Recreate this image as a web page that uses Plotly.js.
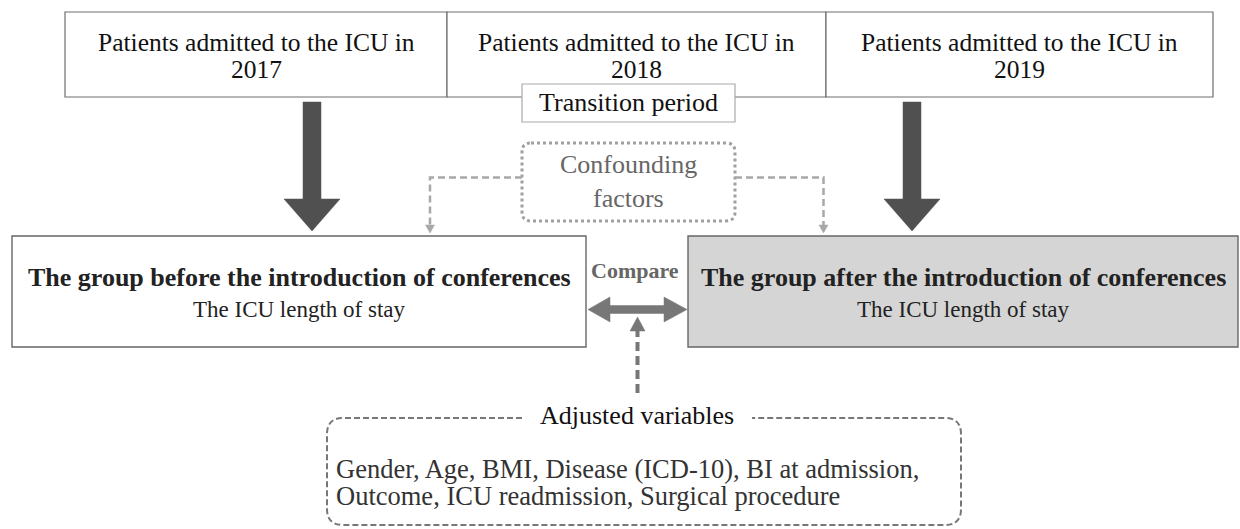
<!DOCTYPE html>
<html>
<head>
<meta charset="utf-8">
<script src="https://cdn.plot.ly/plotly-3.0.1.min.js"></script>
<style>html,body{margin:0;padding:0;background:#fff;}#chart{width:1240px;height:529px;}</style>
</head>
<body>
<div id="chart"></div>
<script>
// ---- content (text of the flow diagram) ----
const admissionYears = ['2017', '2018', '2019'];
const admissionLabel = 'Patients admitted to the ICU in';
const transitionLabel = 'Transition period';
const confoundingLines = ['Confounding', 'factors'];
const groupTitles = ['The group before the introduction of conferences', 'The group after the introduction of conferences'];
const groupSubtitles = ['The ICU length of stay', 'The ICU length of stay'];
const compareLabel = 'Compare';
const adjustedTitle = 'Adjusted variables';
const adjustedLines = ['Gender, Age, BMI, Disease (ICD-10), BI at admission,', 'Outcome, ICU readmission, Surgical procedure'];

// ---- layout geometry (pixel space of the 1240x529 canvas) ----
const W = 1240, H = 529;
const SERIF = 'Liberation Serif';
const topEdges = [65, 447, 826, 1213];
const topY = [12, 97];
const transBox = {x0: 522, x1: 735, y0: 84, y1: 122};
const confBox = {x0: 522, x1: 735, y0: 143, y1: 221, r: 9};
const groupBoxes = [{x0: 12, x1: 586, y0: 236, y1: 347, fill: '#ffffff'}, {x0: 688, x1: 1238, y0: 236, y1: 347, fill: '#d5d5d5'}];
const bigArrowX = [312, 912];
const adjBox = {x0: 327, x1: 961, y0: 418, y1: 525, r: 16, gap0: 522, gap1: 752};

const shapes = [];
const annotations = [];

function rect(x0, y0, x1, y1, color, fill, width) {
  shapes.push({type: 'rect', xref: 'x', yref: 'y', x0: x0, x1: x1, y0: y0, y1: y1,
    line: {color: color, width: width || 1.2}, fillcolor: fill || 'rgba(0,0,0,0)', layer: 'above'});
}
function path(d, color, width, dash, fill) {
  shapes.push({type: 'path', xref: 'x', yref: 'y', path: d,
    line: {color: color, width: width, dash: dash || 'solid'}, fillcolor: fill || 'rgba(0,0,0,0)', layer: 'above'});
}
function text(x, y, t, size, color, bold, xanchor) {
  annotations.push({xref: 'x', yref: 'y', x: x, y: y, text: bold ? '<b>' + t + '</b>' : t, showarrow: false,
    xanchor: xanchor || 'center', yanchor: 'middle', borderpad: 0,
    font: {family: SERIF, size: size, color: color}});
}
function roundedRect(b, r) {
  return 'M' + (b.x0 + r) + ',' + b.y0 + ' L' + (b.x1 - r) + ',' + b.y0 + ' Q' + b.x1 + ',' + b.y0 + ' ' + b.x1 + ',' + (b.y0 + r) +
    ' L' + b.x1 + ',' + (b.y1 - r) + ' Q' + b.x1 + ',' + b.y1 + ' ' + (b.x1 - r) + ',' + b.y1 +
    ' L' + (b.x0 + r) + ',' + b.y1 + ' Q' + b.x0 + ',' + b.y1 + ' ' + b.x0 + ',' + (b.y1 - r) +
    ' L' + b.x0 + ',' + (b.y0 + r) + ' Q' + b.x0 + ',' + b.y0 + ' ' + (b.x0 + r) + ',' + b.y0 + ' Z';
}
function downArrowFilled(cx, yTop, yHeadStart, yTip, shaftHalf, headHalf, color) {
  const d = 'M' + (cx - shaftHalf) + ',' + yTop + ' L' + (cx + shaftHalf) + ',' + yTop + ' L' + (cx + shaftHalf) + ',' + yHeadStart +
    ' L' + (cx + headHalf) + ',' + yHeadStart + ' L' + cx + ',' + yTip + ' L' + (cx - headHalf) + ',' + yHeadStart +
    ' L' + (cx - shaftHalf) + ',' + yHeadStart + ' Z';
  path(d, color, 0.5, 'solid', color);
}
function tri(ax, ay, bx, by, cx, cy, color) {
  path('M' + ax + ',' + ay + ' L' + bx + ',' + by + ' L' + cx + ',' + cy + ' Z', color, 0.5, 'solid', color);
}

// top row of admission boxes
for (let i = 0; i < admissionYears.length; i++) {
  rect(topEdges[i], topY[0], topEdges[i + 1], topY[1], '#6e6e6e', '#ffffff', 1.2);
  const cx = (topEdges[i] + topEdges[i + 1]) / 2;
  text(cx, 42, admissionLabel, 25.5, '#111111', false);
  text(cx, 69.5, admissionYears[i], 25.5, '#111111', false);
}
// transition period box
rect(transBox.x0, transBox.y0, transBox.x1, transBox.y1, '#aaaaaa', '#ffffff', 1.2);
text((transBox.x0 + transBox.x1) / 2, 102, transitionLabel, 26, '#111111', false);

// big dark arrows
bigArrowX.forEach(function (cx) { downArrowFilled(cx, 102, 199, 231, 9, 28, '#505050'); });

// confounding factors box (dotted, rounded)
path(roundedRect(confBox, confBox.r), '#a0a0a0', 3, 'dot');
text((confBox.x0 + confBox.x1) / 2, 164, confoundingLines[0], 26, '#666666', false);
text((confBox.x0 + confBox.x1) / 2, 198, confoundingLines[1], 26, '#666666', false);
// dashed connectors
path('M' + confBox.x0 + ',177.5 L430,177.5 L430,226', '#a8a8a8', 2.5, '7px,4px');
tri(425.5, 225, 434.5, 225, 430, 233, '#a8a8a8');
path('M' + confBox.x1 + ',177.5 L823.5,177.5 L823.5,226', '#a8a8a8', 2.5, '7px,4px');
tri(819, 225, 828, 225, 823.5, 233, '#a8a8a8');

// group boxes
groupBoxes.forEach(function (b, i) {
  rect(b.x0, b.y0, b.x1, b.y1, '#666666', b.fill, 1.4);
  const cx = (b.x0 + b.x1) / 2;
  text(cx, 277, groupTitles[i], 26, '#222222', true);
  text(cx, 309, groupSubtitles[i], 23, '#222222', false);
});

// compare label and double arrow
text(635, 270, compareLabel, 22, '#666666', true);
path('M610,305.5 L664,305.5 L664,297 L687,309.5 L664,322 L664,313.5 L610,313.5 L610,322 L588,309.5 L610,297 Z', '#777777', 0.5, 'solid', '#777777');
// vertical dashed arrow
path('M637.5,393 L637.5,330', '#777777', 4, '9px,5px');
tri(630, 331, 645, 331, 637.5, 317, '#777777');

// adjusted variables box (dashed, rounded, gap for title)
const b = adjBox, r = adjBox.r;
path('M' + b.gap0 + ',' + b.y0 + ' L' + (b.x0 + r) + ',' + b.y0 + ' Q' + b.x0 + ',' + b.y0 + ' ' + b.x0 + ',' + (b.y0 + r) +
  ' L' + b.x0 + ',' + (b.y1 - r) + ' Q' + b.x0 + ',' + b.y1 + ' ' + (b.x0 + r) + ',' + b.y1 +
  ' L' + (b.x1 - r) + ',' + b.y1 + ' Q' + b.x1 + ',' + b.y1 + ' ' + b.x1 + ',' + (b.y1 - r) +
  ' L' + b.x1 + ',' + (b.y0 + r) + ' Q' + b.x1 + ',' + b.y0 + ' ' + (b.x1 - r) + ',' + b.y0 + ' L' + b.gap1 + ',' + b.y0,
  '#777777', 2, '6px,3px');
text(637, 415, adjustedTitle, 26, '#111111', false);
text(335, 468.5, adjustedLines[0], 26.5, '#333333', false, 'left');
text(335, 496, adjustedLines[1], 26.5, '#333333', false, 'left');

const layout = {
  width: W, height: H,
  margin: {l: 0, r: 0, t: 0, b: 0, pad: 0},
  paper_bgcolor: '#ffffff', plot_bgcolor: '#ffffff',
  showlegend: false,
  xaxis: {range: [0, W], visible: false, showgrid: false, zeroline: false, fixedrange: true},
  yaxis: {range: [H, 0], visible: false, showgrid: false, zeroline: false, fixedrange: true},
  shapes: shapes,
  annotations: annotations
};
Plotly.newPlot('chart', [], layout, {staticPlot: true, displayModeBar: false});
</script>
</body>
</html>
